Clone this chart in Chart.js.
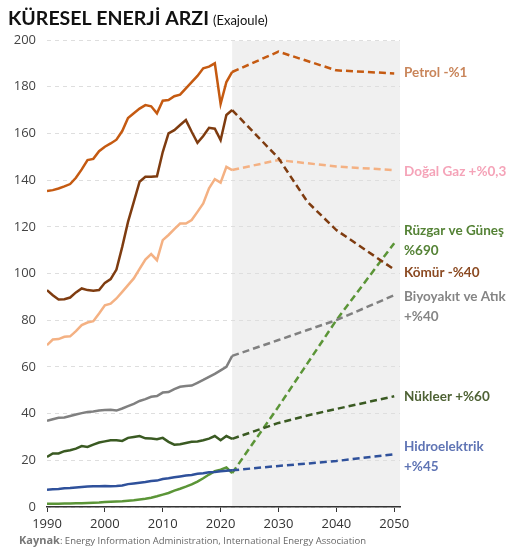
<!DOCTYPE html>
<html>
<head>
<meta charset="utf-8">
<script src="https://cdn.jsdelivr.net/npm/chart.js@4.4.1/dist/chart.umd.min.js"></script>
<style>
  body { margin: 0; background: #fff; }
  #wrap { width: 532px; height: 549px; position: relative; }
</style>
</head>
<body>
<div id="wrap"><canvas id="chartEnerji" width="532" height="549"></canvas></div>
<script>
// ---- Datos (Exajoule) ----
const yillar = [1990, 1991, 1992, 1993, 1994, 1995, 1996, 1997, 1998, 1999,
                2000, 2001, 2002, 2003, 2004, 2005, 2006, 2007, 2008, 2009,
                2010, 2011, 2012, 2013, 2014, 2015, 2016, 2017, 2018, 2019,
                2020, 2021, 2022];
const projYillar = [2022, 2030, 2035, 2040, 2050];

const petrol = [135.3, 135.7, 136.4, 137.3, 138.3, 141.0, 144.6, 148.6, 149.1, 152.4,
                154.3, 155.7, 157.3, 161.0, 166.6, 168.6, 170.6, 172.1, 171.6, 168.6,
                174.0, 174.3, 175.9, 176.6, 179.3, 182.0, 184.6, 187.9, 188.6, 190.0,
                172.6, 182.0, 186.3];
const komur = [92.9, 90.7, 88.9, 89.0, 89.7, 91.9, 93.6, 92.9, 92.6, 92.9,
               96.0, 97.6, 101.7, 111.4, 122.1, 130.7, 139.3, 141.4, 141.4, 141.6,
               152.0, 160.0, 161.4, 163.6, 165.7, 160.7, 156.0, 158.9, 162.4, 162.0,
               157.1, 167.9, 170.0];
const dogalGaz = [69.3, 71.7, 71.9, 72.9, 73.1, 75.3, 77.9, 79.0, 79.6, 82.9,
                  86.4, 87.1, 89.3, 92.1, 95.0, 97.9, 102.0, 106.0, 108.3, 105.7,
                  114.3, 116.5, 119.0, 121.4, 121.4, 122.9, 126.4, 130.0, 136.5, 140.4,
                  138.9, 145.7, 144.3];
const biyoyakit = [36.9, 37.6, 38.2, 38.3, 39.0, 39.6, 40.2, 40.7, 40.9, 41.3,
                   41.5, 41.6, 41.3, 42.2, 43.2, 44.2, 45.4, 46.2, 47.2, 47.5,
                   49.0, 49.2, 50.5, 51.5, 51.8, 52.0, 53.2, 54.4, 55.7, 57.0,
                   58.5, 60.0, 64.7];
const nukleer = [21.4, 22.9, 22.9, 23.9, 24.3, 25.0, 26.1, 25.7, 26.7, 27.6,
                 28.1, 28.6, 28.6, 28.3, 29.6, 30.0, 30.4, 29.4, 29.3, 29.0,
                 29.6, 27.9, 26.7, 26.9, 27.4, 27.9, 28.1, 28.6, 29.3, 30.4,
                 28.6, 30.4, 29.2];
const hidro = [7.4, 7.6, 7.7, 8.0, 8.1, 8.4, 8.6, 8.8, 8.9, 8.9,
               9.0, 8.9, 9.0, 9.2, 9.8, 10.1, 10.4, 10.7, 11.1, 11.3,
               12.0, 12.3, 12.7, 13.1, 13.5, 13.7, 14.2, 14.5, 14.9, 15.0,
               15.3, 15.5, 15.7];
const ruzgarGunes = [1.4, 1.4, 1.4, 1.5, 1.5, 1.6, 1.6, 1.7, 1.8, 1.9,
                     2.1, 2.3, 2.4, 2.5, 2.7, 2.9, 3.2, 3.5, 4.0, 4.6,
                     5.3, 6.0, 7.0, 7.8, 8.7, 9.7, 10.9, 12.3, 13.9, 15.3,
                     16.0, 16.9, 14.5];

// projecciones (2022, 2030, 2035, 2040, 2050)
const petrolProj      = [186.3, 195.0, 191.0, 187.0, 185.7];
const komurProj       = [170.0, 149.4, 130.7, 118.6, 101.7];
const dogalGazProj    = [144.3, 148.6, 147.2, 145.8, 144.3];
const biyoyakitProj   = [64.7, 71.5, 75.8, 80.0, 90.7];
const nukleerProj     = [29.2, 36.0, 39.2, 42.0, 47.4];
const hidroProj       = [15.7, 17.6, 18.6, 19.7, 22.6];
const ruzgarGunesProj = [14.5, 43.0, 61.5, 80.0, 113.0];

const xTicks = [1990, 2000, 2010, 2020, 2030, 2040, 2050];

const seriler = [
    { hist: petrol,      proj: petrolProj,      renk: '#c55a11', etiket: ['Petrol -%1'],                 etiketRenk: '#c9855a', dy: -1 },
    { hist: komur,       proj: komurProj,       renk: '#7f3c10', etiket: ['Kömür -%40'],                 etiketRenk: '#8b4a22', dy: 3 },
    { hist: dogalGaz,    proj: dogalGazProj,    renk: '#f4b183', etiket: ['Doğal Gaz +%0,3'],            etiketRenk: '#f5a3b8', dy: 2 },
    { hist: biyoyakit,   proj: biyoyakitProj,   renk: '#808080', etiket: ['Biyoyakıt ve Atık', '+%40'],  etiketRenk: '#858585', dy: 1 },
    { hist: nukleer,     proj: nukleerProj,     renk: '#3a5a22', etiket: ['Nükleer +%60'],               etiketRenk: '#4e6234', dy: 0 },
    { hist: hidro,       proj: hidroProj,       renk: '#2f519b', etiket: ['Hidroelektrik', '+%45'],      etiketRenk: '#5f74b4', dy: -8 },
    { hist: ruzgarGunes, proj: ruzgarGunesProj, renk: '#5b9537', etiket: ['Rüzgar ve Güneş', '%690'],    etiketRenk: '#548235', dy: -13 }
];

const toXY = (xs, ys) => xs.map((x, i) => ({ x, y: ys[i] }));

const datasets = [];
seriler.forEach(s => {
    datasets.push({
        data: toXY(yillar, s.hist),
        borderColor: s.renk,
        borderWidth: 2.5,
        pointRadius: 0,
        tension: 0
    });
    datasets.push({
        data: toXY(projYillar, s.proj),
        borderColor: s.renk,
        borderWidth: 2.5,
        borderDash: [7, 4],
        pointRadius: 0,
        tension: 0
    });
});

// ---- Plugins ----
const golgePlugin = {
    id: 'golge',
    beforeDraw(chart) {
        const { ctx, chartArea, scales } = chart;
        const x0 = scales.x.getPixelForValue(projYillar[0]);
        ctx.save();
        ctx.fillStyle = '#f0f0f0';
        ctx.fillRect(x0, chartArea.top + 1, chartArea.right - x0, chartArea.bottom - chartArea.top - 1);
        ctx.restore();
    }
};

const metinPlugin = {
    id: 'metinler',
    afterDraw(chart) {
        const { ctx, chartArea, scales } = chart;
        ctx.save();

        // titulo
        ctx.textBaseline = 'alphabetic';
        ctx.textAlign = 'left';
        ctx.fillStyle = '#111';
        ctx.font = 'bold 19.5px Lato';
        const baslik = 'KÜRESEL ENERJİ ARZI';
        ctx.fillText(baslik, 8, 25);
        const w = ctx.measureText(baslik).width;
        ctx.font = '13px Lato';
        ctx.fillText('(Exajoule)', 8 + w + 4, 25);

        // etiquetas de series
        ctx.textBaseline = 'middle';
        seriler.forEach(s => {
            const son = s.proj[s.proj.length - 1];
            const y = scales.y.getPixelForValue(son) + s.dy;
            ctx.fillStyle = s.etiketRenk;
            ctx.font = 'bold 13.5px Lato';
            s.etiket.forEach((t, i) => {
                ctx.fillText(t, chartArea.right + 4, y + i * 20);
            });
        });

        // fuente
        ctx.textBaseline = 'middle';
        ctx.fillStyle = '#777';
        ctx.font = 'bold 11px "Open Sans"';
        ctx.fillText('Kaynak', 19, 541);
        const kw = ctx.measureText('Kaynak').width;
        ctx.font = '9.5px "Open Sans"';
        ctx.fillStyle = '#666';
        ctx.fillText(': Energy Information Administration, International Energy Association', 19 + kw, 541);

        ctx.restore();
    }
};

new Chart(document.getElementById('chartEnerji').getContext('2d'), {
    type: 'line',
    data: { datasets },
    options: {
        responsive: false,
        animation: false,
        parsing: true,
        layout: { padding: { top: 40, right: 132, bottom: 0, left: 0 } },
        plugins: {
            legend: { display: false },
            tooltip: { enabled: false }
        },
        scales: {
            x: {
                type: 'linear',
                min: 1990,
                max: 2051,
                afterBuildTicks: s => { s.ticks = xTicks.map(v => ({ value: v })); },
                afterFit: s => { s.height = 42; },
                ticks: {
                    callback: v => String(v),
                    color: '#333',
                    font: { family: 'Open Sans', size: 13 },
                    padding: 4,
                    maxRotation: 0
                },
                grid: {
                    drawOnChartArea: false,
                    tickLength: 5,
                    color: '#333'
                },
                border: { color: '#333', width: 1.5 }
            },
            y: {
                min: 0,
                max: 200,
                afterFit: s => { s.width = 47; },
                ticks: {
                    stepSize: 20,
                    color: '#444',
                    font: { family: 'Open Sans', size: 13 },
                    padding: 11
                },
                grid: {
                    drawTicks: false,
                    color: '#dedede',
                    lineWidth: 1
                },
                border: { display: false, dash: [4, 4] }
            }
        }
    },
    plugins: [golgePlugin, metinPlugin]
});
</script>
</body>
</html>
